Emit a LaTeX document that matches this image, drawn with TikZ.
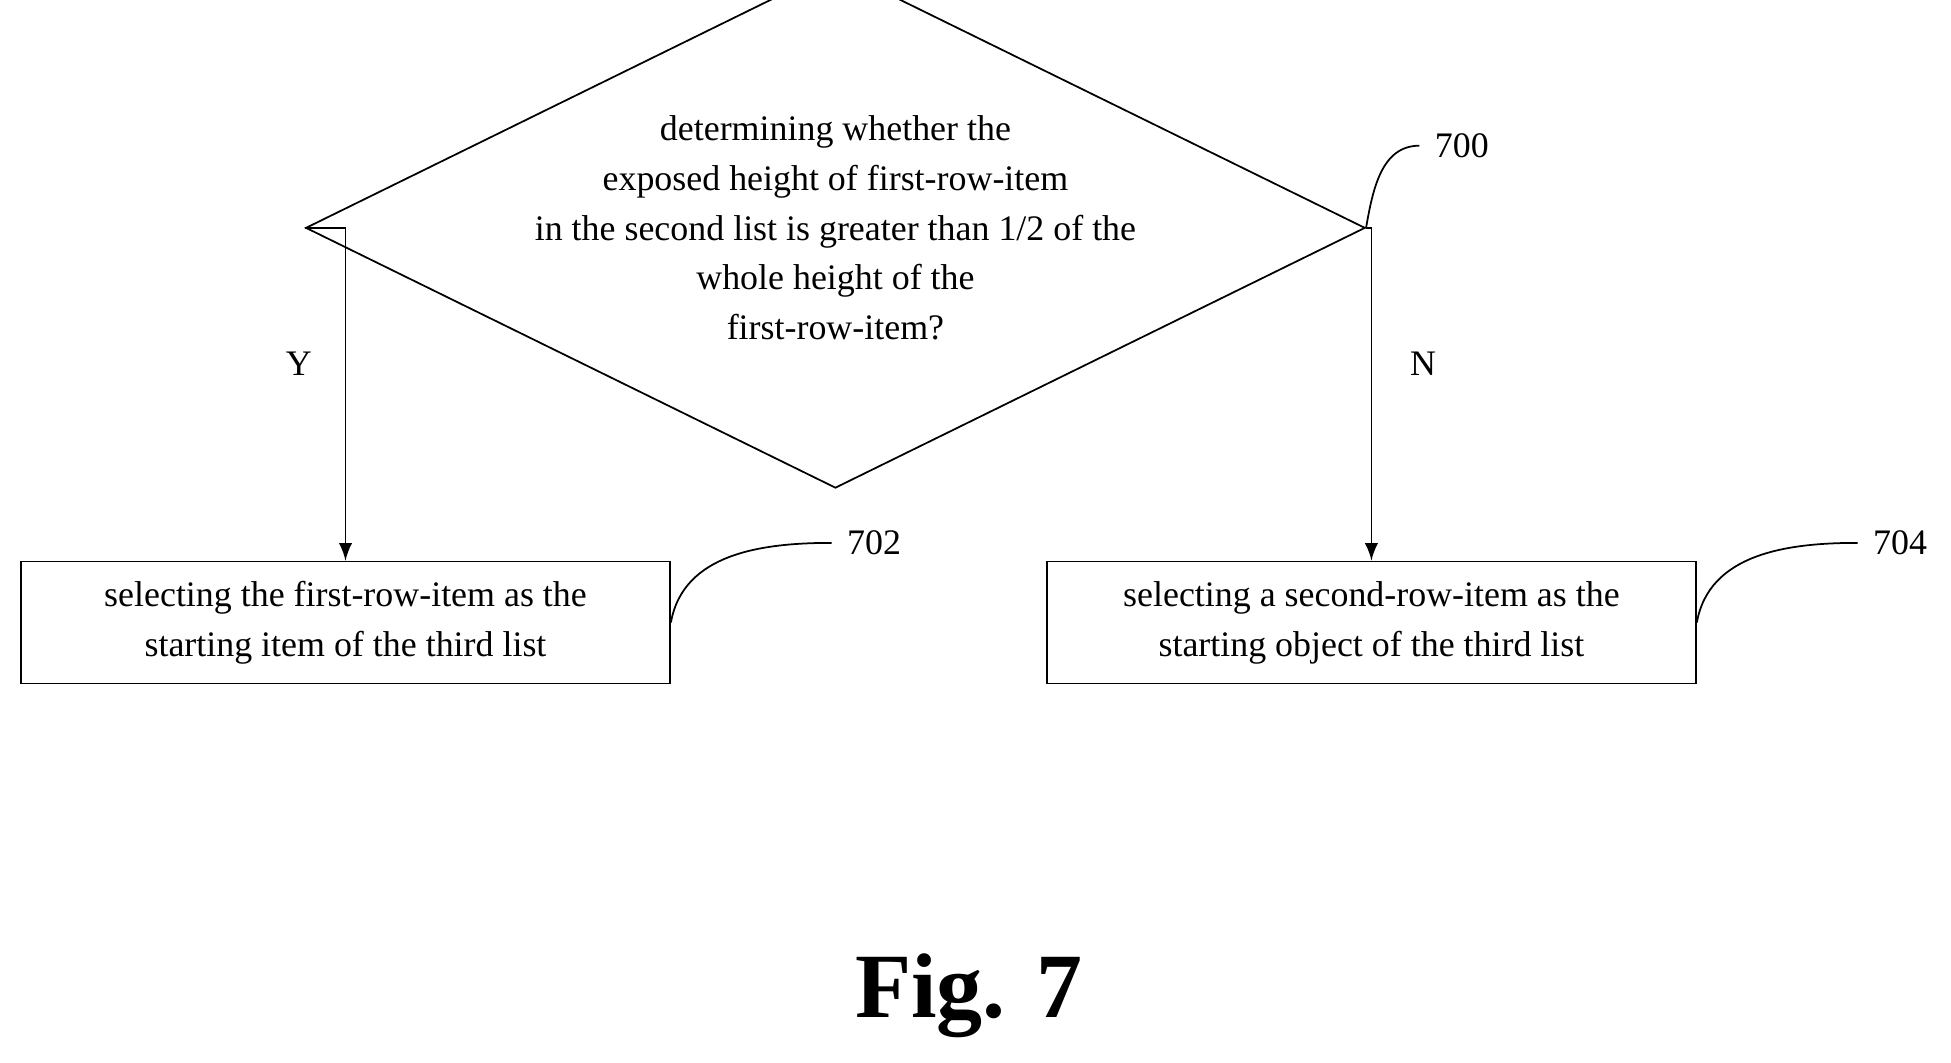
\documentclass[tikz,border=0pt]{standalone}
\usepackage{fontspec}
\setmainfont{Liberation Serif}
\usetikzlibrary{shapes.geometric}
\begin{document}
\begin{tikzpicture}[
    x=0.01cm, y=-0.01cm,
    every node/.style={font=\fontsize{8.2}{11.4}\selectfont},
    box/.style={draw, rectangle, minimum width=5.21cm, minimum height=0.98cm, align=center, inner sep=0pt},
    decision/.style={draw, diamond, aspect=2.036, minimum width=6.78cm, minimum height=3.33cm, inner sep=0pt, align=center},
    arrow/.style={->, >=latex, thin},
    lead/.style={thin}
]
    \useasboundingbox (0,0) rectangle (1567,853);
    % nodes
    \node[decision] (d700) at (671,183) {determining whether the\\exposed height of first-row-item\\in the second list is greater than 1/2 of the\\whole height of the\\first-row-item?};
    \node[box] (b702) at (277.5,500) {selecting the first-row-item as the\\starting item of the third list};
    \node[box] (b704) at (1101.5,500) {selecting a second-row-item as the\\starting object of the third list};
    \node (y) at (240,292) {Y};
    \node (n) at (1143,292) {N};
    \coordinate (t700) at (1140,117);
    \coordinate (t702) at (668,436);
    \coordinate (t704) at (1492,436);
    \node[anchor=west] (l700) at (t700) {700};
    \node[anchor=west] (l702) at (t702) {702};
    \node[anchor=west] (l704) at (t704) {704};
    \node[font=\fontsize{21}{25}\bfseries] (fig) at (778,800) {Fig. 7};
    % edges
    \draw[arrow] (d700.west) -| (b702.north);
    \draw[arrow] (d700.east) -| (b704.north);
    % leaders
    \draw[lead] (d700.east) to[out=80, in=180] (t700);
    \draw[lead] (b702.east) to[out=80, in=180] (t702);
    \draw[lead] (b704.east) to[out=80, in=180] (t704);
\end{tikzpicture}
\end{document}
